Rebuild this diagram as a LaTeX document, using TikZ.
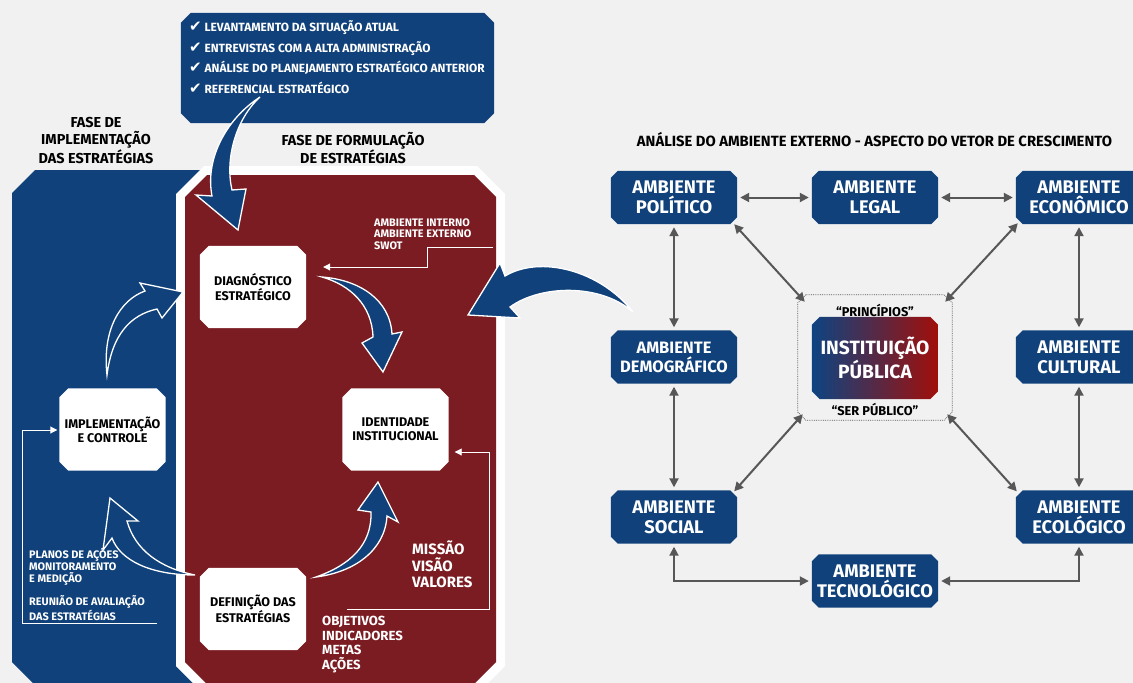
\documentclass[tikz,border=0pt]{standalone}
\usepackage{fontspec}
\setmainfont{Fira Sans}
\newfontfamily\dejavu{DejaVu Sans}
\usetikzlibrary{arrows.meta,calc}
\definecolor{bgc}{HTML}{F1F1F1}
\definecolor{myblue}{HTML}{10417A}
\definecolor{myred}{HTML}{7A1C22}
\definecolor{arrgray}{HTML}{575757}
\definecolor{gblue}{HTML}{0C4482}
\definecolor{gred}{HTML}{A10F0A}
\pgfdeclarelayer{panel}
\pgfdeclarelayer{boxes}
\pgfsetlayers{panel,boxes,main}
\newcommand\chk{{\dejavu\fontsize{15}{15}\selectfont ✔}}
\newcommand\fsz[2]{\fontsize{#1}{#2}\selectfont}
\newcommand\chamf[3]{%
  \begin{pgfonlayer}{boxes}
  \path[#3] ($(#1.north west)+(#2,0)$) -- ($(#1.north east)+(-#2,0)$) -- ($(#1.north east)+(0,#2)$)
    -- ($(#1.south east)+(0,-#2)$) -- ($(#1.south east)+(-#2,0)$) -- ($(#1.south west)+(#2,0)$)
    -- ($(#1.south west)+(0,-#2)$) -- ($(#1.north west)+(0,#2)$) -- cycle;
  \end{pgfonlayer}}
\begin{document}
\begin{tikzpicture}[x=1pt,y=-1pt,
  envbox/.style={rectangle, minimum width=126pt, minimum height=53pt, inner sep=0pt, text=white, align=center,
    font=\bfseries\fsz{18.3}{20}},
  wbox/.style={rectangle, minimum width=106pt, minimum height=82pt, inner sep=0pt, align=center,
    font=\bfseries\fsz{12.6}{14.3}},
  gline/.style={arrgray, line width=2pt, {Triangle[width=9pt,length=9pt]}-{Triangle[width=9pt,length=9pt]},
    shorten <=3pt, shorten >=3pt},
  dline/.style={arrgray, line width=2pt, {Triangle[width=9pt,length=9pt]}-{Triangle[width=9pt,length=9pt]}},
  wline/.style={white, line width=0.9pt, -{Triangle[width=7pt,length=7pt]}},
  bigarr/.style={fill=myblue, draw=white, line width=1.3pt, line join=miter},
  hdr/.style={text=black, align=center, font=\bfseries\fsz{14.4}{16.5}},
  wtxt/.style={text=white, align=left, inner sep=0pt, anchor=west, font=\bfseries\fsz{10.9}{11.7}},
  quote/.style={text=black, font=\bfseries\fsz{12.8}{14}}
]
\useasboundingbox (0,0) rectangle (1133,683);
\begin{pgfonlayer}{panel}
\fill[bgc] (0,0) rectangle (1133,683);
% left blue panel
\fill[myblue] (12,193) -- (35,170) -- (215,170) -- (215,720) -- (70,720) -- (12,662) -- cycle;
% red panel with white border
\fill[white] (176,194) -- (204,166) -- (477,166) -- (505,194) -- (505,666) -- (477,694) -- (204,694) -- (176,666) -- cycle;
\fill[myred] (185,197) -- (207,175) -- (474,175) -- (496,197) -- (496,662) -- (474,684) -- (207,684) -- (185,662) -- cycle;
\end{pgfonlayer}

% top box
\node[rectangle, minimum width=313pt, minimum height=110pt, inner sep=0pt] (top) at (337.5,68) {};
\chamf{top}{10}{fill=myblue}
\node[text=white, align=left, anchor=west, inner sep=0pt, font=\bfseries\fsz{11.9}{20.7}] (toplist) at (189,57)
  {\chk\ LEVANTAMENTO DA SITUAÇÃO ATUAL\\
   \chk\ ENTREVISTAS COM A ALTA ADMINISTRAÇÃO\\
   \chk\ ANÁLISE DO PLANEJAMENTO ESTRATÉGICO ANTERIOR\\
   \chk\ REFERENCIAL ESTRATÉGICO};

% headers
\node[hdr] (h1) at (96,140.5) {FASE DE\\IMPLEMENTAÇÃO\\DAS ESTRATÉGIAS};
\node[hdr] (h2) at (353,148) {FASE DE FORMULAÇÃO\\DE ESTRATÉGIAS};
\node[hdr, font=\bfseries\fsz{14.8}{15}] (h3) at (874.5,140) {ANÁLISE DO AMBIENTE EXTERNO - ASPECTO DO VETOR DE CRESCIMENTO};

% white nodes
\node[wbox] (diag) at (253,287) {DIAGNÓSTICO\\ESTRATÉGICO};
\node[wbox] (impl) at (112.5,429.5) {IMPLEMENTAÇÃO\\E CONTROLE};
\node[wbox] (iden) at (395.5,429.5) {IDENTIDADE\\INSTITUCIONAL};
\node[wbox] (defi) at (253,609) {DEFINIÇÃO DAS\\ESTRATÉGIAS};
\chamf{diag}{9}{fill=white}
\chamf{impl}{9}{fill=white}
\chamf{iden}{9}{fill=white}
\chamf{defi}{9}{fill=white}

% white texts
\node[wtxt] (t1) at (374,234) {AMBIENTE INTERNO\\AMBIENTE EXTERNO\\SWOT};
\node[wtxt] (t2) at (29,567) {PLANOS DE AÇÕES\\MONITORAMENTO\\E MEDIÇÃO};
\node[wtxt] (t3) at (29,608) {REUNIÃO DE AVALIAÇÃO\\DAS ESTRATÉGIAS};
\node[wtxt, font=\bfseries\fsz{15}{16.5}] (t4) at (412,564.5) {MISSÃO\\VISÃO\\VALORES};
\node[wtxt, font=\bfseries\fsz{13.2}{14.5}] (t5) at (322,644.5) {OBJETIVOS\\INDICADORES\\METAS\\AÇÕES};

% thin white connectors
\coordinate (swA) at (493,247);
\coordinate (swB) at (427,267);
\draw[wline, shorten >=17pt] (swA) -| (swB) -- (diag.east |- swB);
\coordinate (idA) at (347,609);
\coordinate (idB) at (489,452);
\draw[wline, shorten >=6pt] (idA) -| (idB) -- (iden.east |- idB);
\coordinate (imA) at (157,623);
\coordinate (imB) at (22,430);
\draw[wline, shorten >=2pt] (imA) -| (imB) -- (impl.west |- imB);

% big curved arrows
\draw[bigarr] (260,97) .. controls (225,120) and (205,160) .. (212,196) -- (196,195) -- (238,230) -- (246,189) -- (232,190) .. controls (225,160) and (235,120) .. (260,97) -- cycle;
\draw[bigarr] (322,277) .. controls (360,280) and (390,300) .. (392,334) -- (402,332) -- (383,372) -- (362,343) -- (373,337) .. controls (372,305) and (350,285) .. (322,277) -- cycle;
\draw[bigarr] (107,375) .. controls (102,330) and (120,300) .. (145,291) -- (140,283) -- (183,292) -- (162,318) -- (157,309) .. controls (130,315) and (112,335) .. (107,375) -- cycle;
\draw[bigarr] (195,575) .. controls (150,575) and (120,560) .. (112,538) -- (103,550) -- (110,498) -- (138,521) -- (127,521) .. controls (135,550) and (160,568) .. (195,575) -- cycle;
\draw[bigarr] (316,577) .. controls (350,565) and (372,545) .. (371,512) -- (358,510) -- (378,482) -- (398,522) -- (387,516) .. controls (385,550) and (355,572) .. (316,577) -- cycle;
\draw[bigarr] (633,312) .. controls (600,270) and (540,255) .. (505,276) -- (500,263) -- (468,315) -- (520,318) -- (510,307) .. controls (540,285) and (600,283) .. (633,312) -- cycle;

% right diagram
\node[envbox] (pol) at (674,197.5) {AMBIENTE\\POLÍTICO};
\node[envbox] (leg) at (875,197.5) {AMBIENTE\\LEGAL};
\node[envbox] (eco) at (1079,197.5) {AMBIENTE\\ECONÔMICO};
\node[envbox, font=\bfseries\fsz{16.5}{19}] (dem) at (674,357) {AMBIENTE\\DEMOGRÁFICO};
\node[envbox] (cul) at (1079,357) {AMBIENTE\\CULTURAL};
\node[envbox] (soc) at (674,517) {AMBIENTE\\SOCIAL};
\node[envbox] (ecl) at (1079,517) {AMBIENTE\\ECOLÓGICO};
\node[envbox] (tec) at (875,581) {AMBIENTE\\TECNOLÓGICO};
\foreach \n in {pol,leg,eco,dem,cul,soc,ecl,tec}{\chamf{\n}{7}{fill=myblue}}
\node[rectangle, minimum width=154pt, minimum height=125pt, inner sep=0pt] (core) at (875,357.5) {};
\chamf{core}{8}{draw=arrgray, densely dotted, line width=0.8pt}
\node[rectangle, minimum width=126pt, minimum height=82pt, inner sep=0pt, text=white, align=center,
    font=\bfseries\fsz{19.2}{20}] (inst) at (875,358) {INSTITUIÇÃO\\PÚBLICA};
\chamf{inst}{8}{left color=gblue, right color=gred}
\node[quote] (prin) at (875,310) {“PRINCÍPIOS”};
\node[quote] (serp) at (875,409) {“SER PÚBLICO”};

\draw[gline] (pol) -- (leg);
\draw[gline] (leg) -- (eco);
\draw[gline] (pol) -- (dem);
\draw[gline] (eco) -- (cul);
\draw[gline] (dem) -- (soc);
\draw[gline] (cul) -- (ecl);
\draw[gline] (soc.south) |- (tec.west);
\draw[gline] (ecl.south) |- (tec.east);
\draw[dline] ($(pol.south east)+(-3,0)$) -- ($(core.north west)+(7,7)$);
\draw[dline] ($(eco.south west)+(2,-1)$) -- ($(core.north east)+(-7,7)$);
\draw[dline] ($(soc.north east)+(-3,1)$) -- ($(core.south west)+(5,-6)$);
\draw[dline] ($(ecl.north west)+(1,1)$) -- ($(core.south east)+(-5,-6)$);
\end{tikzpicture}
\end{document}
